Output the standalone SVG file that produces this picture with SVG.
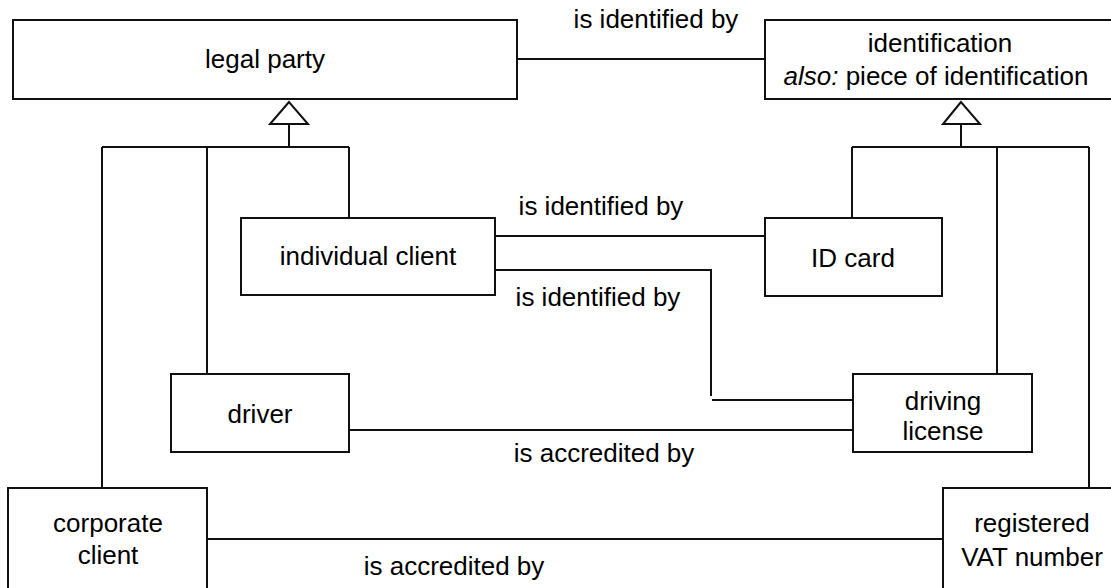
<svg xmlns="http://www.w3.org/2000/svg" width="1111" height="588" viewBox="0 0 1111 588">
<style>
.box{fill:#fff;stroke:#111;stroke-width:2}
.ln{fill:none;stroke:#111;stroke-width:2}
.tri{fill:#fff;stroke:#111;stroke-width:2;stroke-linejoin:miter}
text{font-family:"Liberation Sans",Arial,sans-serif;font-size:26px;fill:#000;text-anchor:middle}
</style>
<rect width="1111" height="588" fill="#fff"/>
<g id="connectors">
<path class="ln" d="M517 59H765"/>
<path class="tri" d="M289 102L270 124H308Z"/>
<path class="ln" d="M289 124V147M102 147H349M102 147V488M207 147V374M349 147V218"/>
<path class="tri" d="M961 102L943 124H980Z"/>
<path class="ln" d="M961 124V147M852 147H1089M852 147V218M997 147V374M1089 147V488"/>
<path class="ln" d="M495 236H765"/>
<path class="ln" d="M495 270H711V396M712 400H853"/>
<path class="ln" d="M349 430H853"/>
<path class="ln" d="M207 539H943"/>
<text x="656" y="28">is identified by</text>
<text x="601" y="215">is identified by</text>
<text x="598" y="306">is identified by</text>
<text x="604" y="462">is accredited by</text>
<text x="454" y="575">is accredited by</text>
</g>
<g id="legal-party">
<rect class="box" x="13" y="20" width="504" height="79"/>
<text x="265" y="68">legal party</text>
</g>
<g id="identification">
<rect class="box" x="765" y="20" width="360" height="79"/>
<text x="940" y="52">identification</text>
<text x="936" y="85"><tspan font-style="italic">also:</tspan> piece of identification</text>
</g>
<g id="individual-client">
<rect class="box" x="241" y="218" width="254" height="77"/>
<text x="368" y="265">individual client</text>
</g>
<g id="id-card">
<rect class="box" x="765" y="218" width="177" height="78"/>
<text x="853" y="267">ID card</text>
</g>
<g id="driver">
<rect class="box" x="171" y="374" width="178" height="78"/>
<text x="260" y="423">driver</text>
</g>
<g id="driving-license">
<rect class="box" x="853" y="374" width="179" height="78"/>
<text x="943" y="410">driving</text>
<text x="943" y="440">license</text>
</g>
<g id="corporate-client">
<rect class="box" x="8" y="488" width="199" height="110"/>
<text x="108" y="532">corporate</text>
<text x="108" y="564">client</text>
</g>
<g id="registered-vat-number">
<rect class="box" x="943" y="488" width="190" height="110"/>
<text x="1032" y="532">registered</text>
<text x="1032" y="566">VAT number</text>
</g>
</svg>
